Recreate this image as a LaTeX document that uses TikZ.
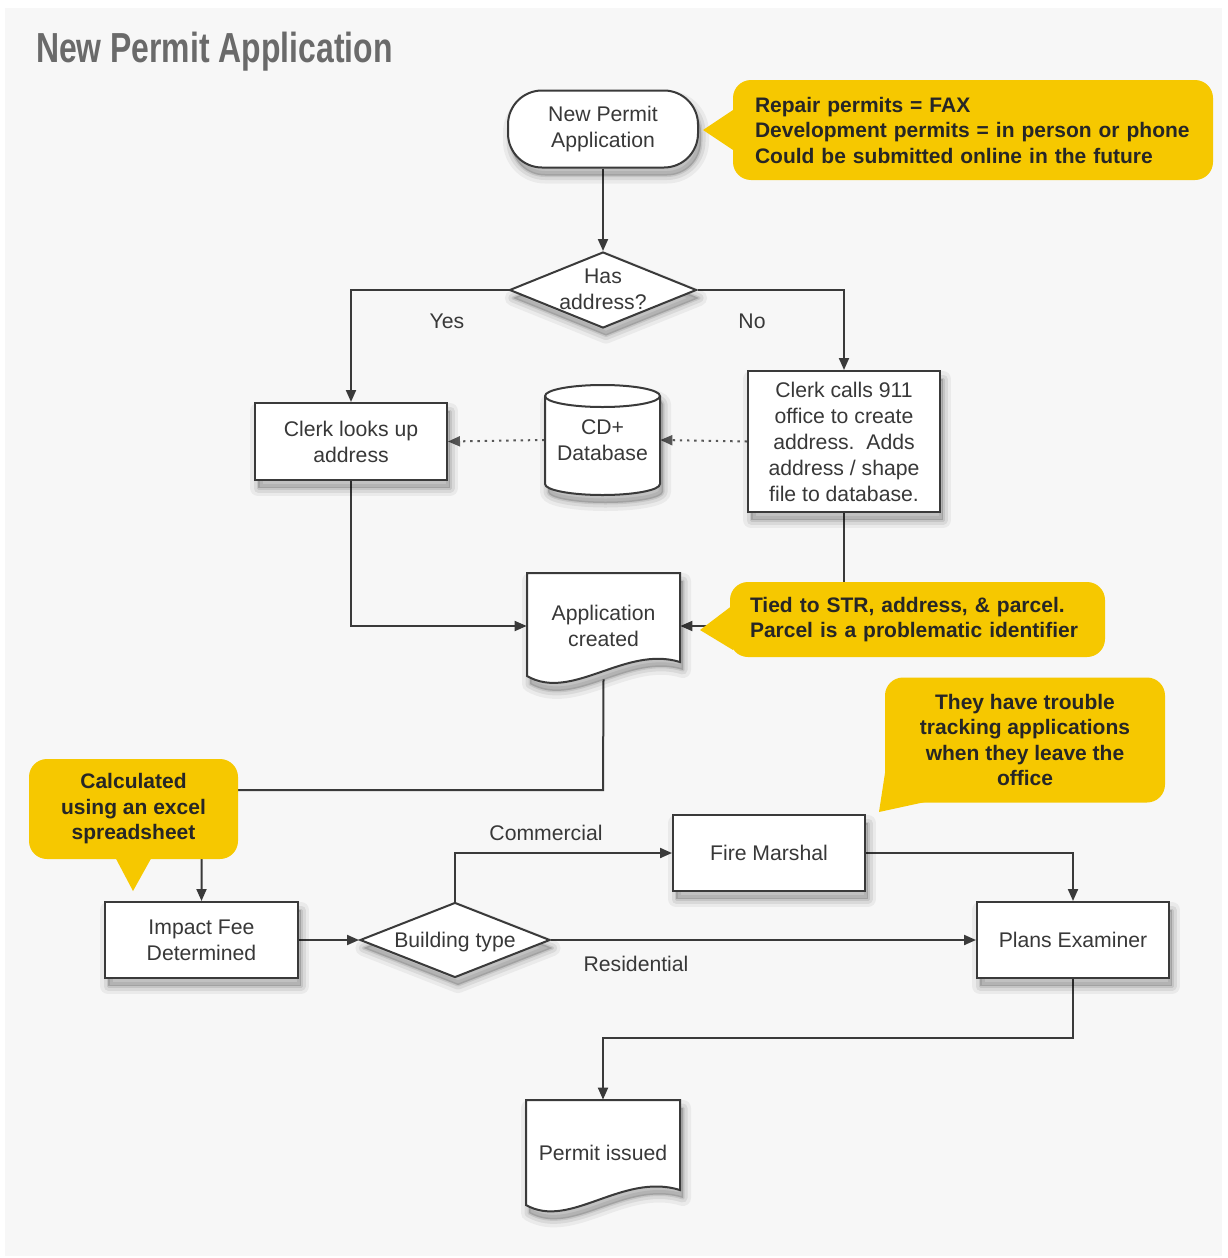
\documentclass[tikz,border=0pt]{standalone}
\usepackage{fontspec}
\setmainfont{Liberation Sans}
\newfontfamily\titlefont[FakeStretch=0.76]{Liberation Sans Bold}
\usetikzlibrary{arrows.meta,shapes.geometric,calc}
\pgfdeclarelayer{bg}
\pgfdeclarelayer{edges}
\pgfsetlayers{bg,edges,main}
\definecolor{panel}{HTML}{F7F7F7}
\definecolor{note}{RGB}{246,200,0}
\definecolor{ink}{HTML}{3A3A3A}
\definecolor{txt}{HTML}{383838}
\definecolor{titlegray}{HTML}{6A6A6A}

\tikzset{
  every node/.style={font=\fontsize{10.6}{13}\selectfont, text=txt},
  % stacked translucent copies give a soft drop shadow
  soft shadow/.style={
    preaction={draw=black, draw opacity=0.05, line width=8pt, line join=round,
      fill=black, fill opacity=0.06, transform canvas={shift={(1.5pt,-4pt)}}},
    preaction={draw=black, draw opacity=0.07, line width=4.5pt, line join=round,
      transform canvas={shift={(1.5pt,-4pt)}}},
    preaction={draw=black, draw opacity=0.09, line width=1.5pt, line join=round,
      fill=black, fill opacity=0.12, transform canvas={shift={(1.5pt,-4pt)}}}},
  procbox/.style={rectangle, draw=ink, line width=1pt, fill=white, soft shadow,
      minimum width=96pt, minimum height=38.5pt, align=center, inner sep=2pt},
  terminal/.style={procbox, rounded corners=17pt, minimum width=95pt},
  decision/.style={diamond, draw=ink, line width=1pt, fill=white, soft shadow,
      inner sep=0pt},
  outline/.style={draw=ink, line width=1pt, fill=white, soft shadow},
  plain/.style={rectangle, align=center, inner sep=0pt},
  flow/.style={draw=ink, line width=1pt, -{Triangle[length=6pt,width=5pt]}},
  dotflow/.style={flow, draw=ink!85, dash pattern=on 1.2pt off 2.4pt},
  edgelabel/.style={inner sep=1pt},
  callout/.style={rectangle, fill=note, rounded corners=9pt,
      font=\bfseries\fontsize{10.5}{12.75}\selectfont, text=black!85},
}

\begin{document}
\begin{tikzpicture}[x=0.5pt, y=-0.5pt]
  \useasboundingbox (0,0) rectangle (1227,1258);
  \begin{pgfonlayer}{bg}
    \fill[white] (0,0) rectangle (1227,1258);
    \fill[panel] (5,8) rectangle (1222,1256);
  \end{pgfonlayer}

  % heading
  \node[anchor=west, font=\titlefont\fontsize{21}{25}\selectfont, text=titlegray]
    (title) at (29,52) {New Permit Application};

  % start and first decision
  \node[terminal] (start) at (603,129) {New Permit\\Application};
  \node[decision, minimum width=93.5pt, minimum height=38pt] (has) at (603,290) {};
  \node[plain] (hastext) at (603,289) {Has\\address?};

  % address lookup row
  \node[procbox] (clerk1) at (351,441.5) {Clerk looks up\\address};
  \node[procbox, minimum height=70.5pt] (clerk2) at (844,441.5)
    {Clerk calls 911\\office to create\\address.\ \ Adds\\address / shape\\file to database.};

  % database cylinder
  \path[outline] (545,396) -- (545,484)
    arc[start angle=180, end angle=360, x radius=28.75pt, y radius=5.5pt]
    -- (660,396)
    arc[start angle=0, end angle=180, x radius=28.75pt, y radius=5.5pt] -- cycle;
  \draw[ink, line width=1pt] (545,396)
    arc[start angle=180, end angle=360, x radius=28.75pt, y radius=5.5pt];
  \node[plain, minimum width=57.5pt, minimum height=55pt] (db) at (602.5,440) {CD+\\Database};

  % application document
  \path[outline] (527,573) -- (680,573) -- (680,662)
    .. controls (625,645) and (572,702) .. (527,676) -- cycle;
  \node[plain, minimum width=76.5pt, minimum height=53pt] (app) at (603.5,626) {Application\\created};

  % fee and routing
  \node[procbox, minimum width=96.5pt, minimum height=38pt] (impact) at (201.5,940) {Impact Fee\\Determined};
  \node[decision, minimum width=95pt, minimum height=37.5pt] (bt) at (455,940) {};
  \node[plain] (bttext) at (455,942) {Building type};
  \node[procbox, minimum height=38pt] (fire) at (769,853) {Fire Marshal};
  \node[procbox, minimum height=38pt] (plans) at (1073,940) {Plans Examiner};

  % permit document
  \path[outline] (526,1100) -- (680,1100) -- (680,1190)
    .. controls (622,1172) and (570,1230) .. (526,1205) -- cycle;
  \node[plain, minimum width=77pt, minimum height=53pt] (permit) at (603,1153) {Permit issued};

  % bend points
  \coordinate (drop1) at (603,790);
  \coordinate (drop2) at (1073,1038);

  % connectors
  \begin{pgfonlayer}{edges}
    \draw[flow] (start) -- (has);
    \draw[flow] (has.west) -| (clerk1.north);
    \draw[flow] (has.east) -| (clerk2.north);
    \draw[dotflow] (clerk2.west) -- (db.east);
    \draw[dotflow] (db.west) -- (clerk1.east);
    \draw[flow] (clerk1.south) |- (app.west);
    \draw[flow] (clerk2.south) |- (app.east);
    \draw[flow] (app.south) -- (drop1) -| (impact.north);
    \draw[flow] (impact) -- (bt);
    \draw[flow] (bt.north) |- (fire.west);
    \draw[flow] (fire.east) -| (plans.north);
    \draw[flow] (bt.east) -- (plans.west);
    \draw[flow] (plans.south) -- (drop2) -| (permit.north);
  \end{pgfonlayer}

  % branch labels
  \node[edgelabel] (yes) at (447,321) {Yes};
  \node[edgelabel] (no) at (752,321) {No};
  \node[edgelabel] (commercial) at (546,833) {Commercial};
  \node[edgelabel] (residential) at (636,964) {Residential};

  % notes
  \fill[note] (736,108) -- (703,130) -- (736,152) -- cycle;
  \node[callout, minimum width=240pt, minimum height=50pt, inner xsep=11pt,
        text width=218pt, align=left] (note1) at (973,130)
    {Repair permits = FAX\\Development permits = in person or phone\\Could be submitted online in the future};

  \fill[note] (733,605) -- (700,630) -- (733,650) -- cycle;
  \node[callout, minimum width=187.5pt, minimum height=37.5pt, inner xsep=10pt,
        text width=167.5pt, align=left] (note2) at (917.5,619.5)
    {Tied to STR, address, \& parcel.\\Parcel is a problematic identifier};

  \fill[note] (114,855) -- (133,891) -- (153,855) -- cycle;
  \node[callout, minimum width=104.5pt, minimum height=50pt, align=center] (note3) at (133.5,809)
    {Calculated\\using an excel\\spreadsheet};

  \fill[note] (887,760) -- (879,812) -- (925,802) -- cycle;
  \node[callout, minimum width=140pt, minimum height=62.5pt, align=center] (note4) at (1025,740)
    {They have trouble\\tracking applications\\when they leave the\\office};
\end{tikzpicture}
\end{document}
